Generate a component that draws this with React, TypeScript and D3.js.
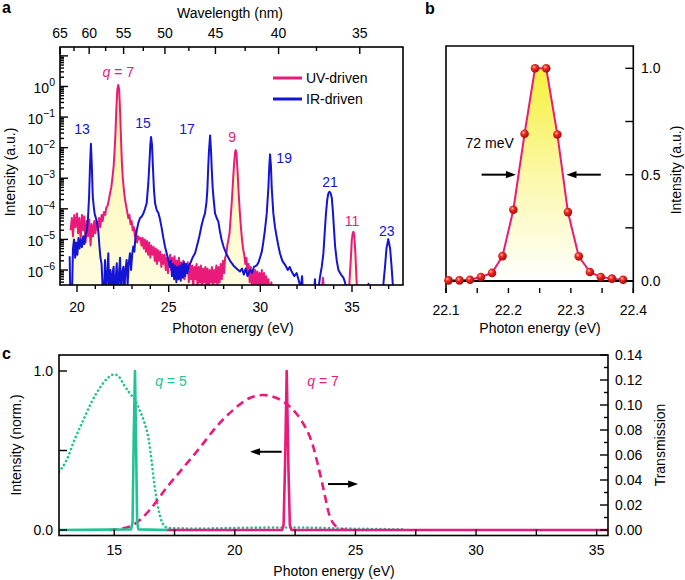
import React from "react";
import * as d3 from "d3";

const FONT = "'Liberation Sans', Arial, Helvetica, sans-serif";
const MAGENTA = "#ea1a7b";
const BLUE = "#1414d6";
const TEAL = "#22c393";

// ---------- Panel a data: [photon energy (eV), log10 intensity] ----------
const uvSpectrum: [number, number][] = [
  [19.65,-4.7],[19.72,-4.3],[19.78,-4.9],[19.85,-4.2],[19.92,-4.6],[20.0,-4.15],[20.06,-4.8],[20.13,-4.3],
  [20.2,-5.0],[20.27,-4.2],[20.34,-4.7],[20.4,-4.25],[20.47,-5.1],[20.54,-4.4],[20.6,-4.9],[20.67,-4.35],
  [20.74,-5.2],[20.8,-4.5],[20.87,-4.9],[20.94,-4.4],[21.0,-4.8],[21.07,-4.4],[21.14,-4.7],[21.2,-4.3],
  [21.27,-4.6],[21.34,-4.2],[21.4,-4.4],[21.47,-4.1],[21.54,-4.2],[21.6,-3.95],[21.67,-3.9],[21.74,-3.7],
  [21.8,-3.5],[21.87,-3.3],[21.93,-3.0],[22.0,-2.6],[22.05,-2.1],[22.1,-1.5],[22.15,-0.7],[22.2,-0.1],
  [22.25,0.05],[22.3,-0.1],[22.35,-0.8],[22.4,-1.7],[22.45,-2.5],[22.5,-3.0],[22.56,-3.4],[22.62,-3.7],
  [22.68,-3.9],[22.74,-4.1],[22.8,-4.3],[22.86,-4.2],[22.92,-4.5],[22.98,-4.4],[23.04,-4.7],[23.1,-4.6],
  [23.16,-4.9],[23.22,-4.7],[23.28,-5.1],[23.34,-4.9],[23.4,-5.0],[23.46,-4.95],[23.52,-5.2],[23.58,-4.95],
  [23.64,-5.3],[23.7,-5.0],[23.76,-5.4],[23.82,-5.05],[23.88,-5.5],[23.94,-5.1],[24.0,-5.6],[24.06,-5.2],
  [24.12,-5.5],[24.18,-5.25],[24.24,-5.7],[24.3,-5.3],[24.36,-5.8],[24.42,-5.35],[24.48,-5.7],[24.54,-5.4],
  [24.6,-5.9],[24.66,-5.5],[24.72,-5.8],[24.78,-5.5],[24.84,-6.0],[24.9,-5.6],[24.96,-6.1],[25.02,-5.7],
  [25.08,-5.5],[25.14,-6.0],[25.2,-5.6],[25.26,-5.9],[25.32,-5.55],[25.38,-6.1],[25.44,-5.7],[25.5,-6.0],
  [25.56,-5.6],[25.62,-6.2],[25.68,-5.75],[25.74,-6.1],[25.8,-5.7],[25.86,-6.3],[25.92,-5.8],[25.98,-6.1],
  [26.04,-5.75],[26.1,-6.4],[26.16,-5.8],[26.22,-6.3],[26.28,-5.85],[26.34,-6.6],[26.4,-5.9],[26.46,-6.3],
  [26.52,-5.8],[26.58,-6.6],[26.64,-5.9],[26.7,-6.4],[26.76,-5.85],[26.82,-6.7],[26.88,-5.95],[26.94,-6.4],
  [27.0,-5.9],[27.06,-6.6],[27.12,-5.95],[27.18,-6.7],[27.24,-6.0],[27.3,-6.4],[27.36,-5.9],[27.42,-6.7],
  [27.48,-6.0],[27.54,-6.4],[27.6,-5.85],[27.66,-6.6],[27.72,-5.9],[27.78,-6.4],[27.84,-5.8],[27.9,-6.3],
  [27.96,-5.7],[28.02,-6.1],[28.08,-5.6],[28.14,-5.5],[28.2,-5.2],[28.26,-5.0],[28.32,-4.8],[28.38,-4.3],
  [28.44,-3.8],[28.5,-3.2],[28.56,-2.6],[28.62,-2.15],[28.66,-2.08],[28.7,-2.2],[28.76,-2.8],[28.82,-3.5],
  [28.88,-4.1],[28.94,-4.6],[29.0,-5.0],[29.06,-5.3],[29.12,-5.5],[29.18,-5.8],[29.24,-5.6],[29.3,-6.1],
  [29.36,-5.8],[29.42,-6.4],[29.48,-5.9],[29.54,-6.5],[29.6,-6.0],[29.66,-6.7],[29.72,-6.0],[29.78,-6.5],
  [29.84,-6.05],[29.9,-6.7],[29.96,-6.1],[30.02,-6.6],[30.08,-6.0],[30.14,-6.6],[30.2,-6.1],[30.26,-6.7],
  [30.32,-6.2],[30.38,-6.7],[30.44,-6.3],[30.5,-6.8],[30.6,-6.4],[30.7,-7],[33.3,-7],[33.42,-6.25],
  [33.5,-7],[34.8,-7],[34.88,-6.2],[34.94,-5.6],[34.99,-5.0],[35.04,-4.8],[35.08,-4.75],[35.12,-4.85],
  [35.18,-5.4],[35.24,-6.2],[35.3,-7],
];

const irSpectrum: [number, number][] = [
  [19.6,-5.55],[19.64,-7],[19.72,-7],[19.78,-5.3],[19.84,-5.0],[19.9,-5.6],[19.96,-5.1],[20.02,-5.5],
  [20.08,-4.95],[20.14,-5.3],[20.2,-5.0],[20.27,-5.25],[20.34,-4.9],[20.4,-5.15],[20.47,-4.85],[20.54,-4.7],
  [20.6,-4.3],[20.66,-3.6],[20.71,-2.6],[20.76,-1.87],[20.81,-2.6],[20.86,-3.6],[20.91,-3.9],[20.96,-4.15],
  [21.03,-4.3],[21.1,-4.5],[21.16,-4.7],[21.22,-5.2],[21.28,-5.6],[21.34,-5.8],[21.4,-6.6],[21.46,-7],
  [21.53,-5.67],[21.58,-7],[21.64,-6.2],[21.71,-5.45],[21.76,-7],[21.82,-6.0],[21.88,-7],[21.94,-6.1],
  [22.0,-5.89],[22.05,-7],[22.11,-6.3],[22.17,-5.78],[22.22,-7],[22.28,-6.2],[22.35,-5.6],[22.4,-7],
  [22.46,-6.1],[22.53,-5.89],[22.58,-6.8],[22.64,-6.0],[22.71,-5.67],[22.76,-6.5],[22.82,-5.8],[22.89,-5.45],
  [22.95,-6.0],[23.01,-5.5],[23.07,-5.23],[23.13,-5.4],[23.19,-4.9],[23.26,-4.7],[23.35,-4.45],[23.44,-4.3],
  [23.53,-4.25],[23.62,-4.15],[23.71,-4.0],[23.8,-3.82],[23.89,-3.17],[23.95,-2.5],[24.0,-1.9],[24.04,-1.65],
  [24.09,-1.9],[24.14,-2.6],[24.2,-3.4],[24.26,-3.82],[24.35,-4.05],[24.44,-4.14],[24.53,-4.35],[24.62,-4.63],
  [24.71,-4.95],[24.8,-5.23],[24.89,-5.45],[24.98,-5.67],[25.06,-5.9],[25.12,-5.7],[25.18,-6.2],[25.24,-5.8],
  [25.3,-6.3],[25.36,-5.85],[25.42,-6.4],[25.48,-5.9],[25.54,-6.3],[25.6,-5.85],[25.66,-6.35],[25.72,-5.8],
  [25.78,-6.25],[25.84,-5.75],[25.9,-6.2],[25.96,-5.8],[26.02,-6.1],[26.1,-5.85],[26.2,-5.75],[26.3,-5.6],
  [26.44,-5.45],[26.55,-5.2],[26.67,-4.91],[26.8,-4.53],[26.9,-4.3],[26.98,-4.15],[27.06,-3.8],[27.11,-3.39],
  [27.16,-2.6],[27.2,-2.1],[27.26,-1.6],[27.31,-2.1],[27.35,-2.7],[27.4,-3.3],[27.44,-3.6],[27.53,-4.15],
  [27.62,-4.3],[27.71,-4.42],[27.8,-4.75],[27.89,-5.02],[28.0,-5.25],[28.17,-5.5],[28.35,-5.7],[28.53,-5.85],
  [28.7,-5.95],[28.89,-6.05],[29.0,-5.95],[29.1,-6.15],[29.2,-5.95],[29.3,-6.2],[29.44,-6.0],[29.55,-6.1],
  [29.65,-5.9],[29.8,-5.85],[29.9,-5.75],[29.98,-5.6],[30.08,-5.4],[30.16,-5.1],[30.25,-4.7],[30.35,-4.15],
  [30.44,-3.3],[30.49,-2.6],[30.53,-2.22],[30.58,-2.6],[30.62,-3.3],[30.71,-4.15],[30.8,-4.6],[30.89,-4.91],
  [30.98,-5.2],[31.07,-5.45],[31.2,-5.7],[31.35,-5.83],[31.5,-6.0],[31.6,-5.9],[31.71,-6.05],[31.85,-6.2],
  [31.98,-6.1],[32.1,-6.35],[32.2,-6.6],[32.28,-6.2],[32.34,-7],[32.9,-7],[32.98,-6.3],[33.04,-7],
  [33.15,-6.7],[33.26,-6.21],[33.35,-5.9],[33.44,-5.45],[33.52,-4.7],[33.58,-4.15],[33.65,-3.7],[33.71,-3.5],
  [33.77,-3.44],[33.84,-3.5],[33.9,-3.65],[33.96,-4.1],[34.0,-4.5],[34.08,-5.23],[34.17,-5.7],[34.26,-6.0],
  [34.4,-6.15],[34.53,-6.25],[34.62,-6.4],[34.71,-6.7],[34.8,-7],[35.85,-7],[35.9,-6.45],[35.95,-7],
  [36.65,-7],[36.72,-6.4],[36.8,-5.9],[36.88,-5.3],[36.98,-4.99],[37.08,-5.3],[37.16,-5.9],[37.24,-6.6],[37.3,-7],
];

const wavelengthMajor = [65, 60, 55, 50, 45, 40, 35];
const wavelengthMinor = [62.5, 57.5, 52.5, 47.5, 42.5, 37.5];
const energyTicksA = [20, 25, 30, 35];
const decadeLabels = [0, -1, -2, -3, -4, -5, -6];
const peakLabels = [
  { text: "13", e: 20.27, logI: -1.39, src: "IR" },
  { text: "15", e: 23.6, logI: -1.19, src: "IR" },
  { text: "17", e: 26.0, logI: -1.39, src: "IR" },
  { text: "9", e: 28.46, logI: -1.65, src: "UV" },
  { text: "19", e: 31.3, logI: -2.33, src: "IR" },
  { text: "21", e: 33.8, logI: -3.12, src: "IR" },
  { text: "11", e: 35.0, logI: -4.39, src: "UV" },
  { text: "23", e: 36.9, logI: -4.72, src: "IR" },
];
const legendItems = [
  { name: "UV-driven", src: "UV" },
  { name: "IR-driven", src: "IR" },
];

// ---------- Panel b data ----------
const bEnergy = [22.104, 22.1216, 22.1384, 22.1558, 22.1737, 22.1905, 22.2079, 22.2258, 22.2426,
  22.2605, 22.2784, 22.2953, 22.3126, 22.3305, 22.3479, 22.3658, 22.3837];
const bIntensity = [0.003, 0.003, 0.006, 0.019, 0.038, 0.117, 0.335, 0.692, 1.0,
  1.0, 0.689, 0.324, 0.116, 0.042, 0.019, 0.011, 0.006];
const bXTicks = [22.1, 22.2, 22.3, 22.4];
const bXMinor = [22.15, 22.25, 22.35];
const bYTicks = [0, 0.5, 1.0];
const bYMinor = [0.25, 0.75];

// ---------- Panel c data ----------
const q5Intensity: [number, number][] = [
  [12.71, 0], [15.7, 0.004], [15.76, 0.05], [15.81, 0.6], [15.86, 1.0], [15.9, 0.6], [15.95, 0.05], [16.0, 0.004], [17.25, 0],
];
const q7Intensity: [number, number][] = [
  [17.2, 0], [21.95, 0], [22.02, 0.03], [22.08, 0.4], [22.15, 1.0], [22.22, 0.4], [22.28, 0.03], [22.35, 0], [35.47, 0],
];
const q5Transmission: [number, number][] = [
  [12.71, 0.0465], [13.0, 0.055], [13.35, 0.072], [13.72, 0.088], [14.05, 0.102], [14.4, 0.1136], [14.7, 0.121],
  [15.0, 0.1245], [15.2, 0.1225], [15.37, 0.117], [15.65, 0.1093], [15.86, 0.104], [16.08, 0.0947], [16.25, 0.086],
  [16.43, 0.072], [16.55, 0.055], [16.64, 0.04], [16.78, 0.022], [16.9, 0.011], [17.05, 0.004], [17.25, 0.0015],
  [18.5, 0.0012], [20.5, 0.0018], [22.5, 0.002], [24.5, 0.0012], [27.0, 0.0005],
];
const q7Transmission: [number, number][] = [
  [14.8, 0.0], [15.2, 0.0008], [15.78, 0.004], [16.47, 0.016], [17.16, 0.0336], [17.85, 0.0496], [18.54, 0.0656],
  [19.24, 0.0827], [19.93, 0.096], [20.62, 0.1056], [21.17, 0.108], [21.73, 0.1056], [22.28, 0.0987], [22.83, 0.0853],
  [23.1, 0.075], [23.25, 0.0667], [23.42, 0.054], [23.59, 0.04], [23.75, 0.026], [23.86, 0.016], [24.0, 0.008],
  [24.14, 0.004], [24.35, 0.001], [24.6, 0.0],
];
const cXTicks = [15, 20, 25, 30, 35];
const cXMinor = [17.5, 22.5, 27.5, 32.5];
const cIntensityTicks = [0, 1.0];
const cIntensityMinor = [0.5];
const cTransTicks = [0, 0.02, 0.04, 0.06, 0.08, 0.1, 0.12, 0.14];
const cTransMinor = [0.01, 0.03, 0.05, 0.07, 0.09, 0.11, 0.13];

const Arrow = ({ x1, y1, x2, y2 }: { x1: number; y1: number; x2: number; y2: number }) => {
  const ang = Math.atan2(y2 - y1, x2 - x1);
  const L = 10, W = 3.6;
  const bx = x2 - L * Math.cos(ang), by = y2 - L * Math.sin(ang);
  const p1 = `${bx + W * Math.sin(ang)},${by - W * Math.cos(ang)}`;
  const p2 = `${bx - W * Math.sin(ang)},${by + W * Math.cos(ang)}`;
  return (
    <g>
      <line x1={x1} y1={y1} x2={bx + 1 * Math.cos(ang)} y2={by + 1 * Math.sin(ang)} stroke="#000" strokeWidth={2} />
      <polygon points={`${x2},${y2} ${p1} ${p2}`} fill="#000" />
    </g>
  );
};

export default function App() {
  const srcColor = (s: string) => (s === "UV" ? MAGENTA : BLUE);

  // ----- Panel a -----
  const A = { l: 60, r: 403, t: 47, b: 285 };
  const xA = d3.scaleLinear().domain([19.073, 37.782]).range([A.l, A.r]);
  const yA = d3.scaleLog().domain([10 ** -6.49, 10 ** 1.29]).range([A.b, A.t]);
  const lineA = d3.line<[number, number]>().x((d) => xA(d[0])).y((d) => yA(10 ** d[1]));
  const areaA = d3.area<[number, number]>().x((d) => xA(d[0])).y0(A.b).y1((d) => yA(10 ** d[1]));
  const logTicks: { v: number; major: boolean }[] = [];
  for (let dec = -7; dec <= 1; dec++) {
    for (let k = 1; k <= 9; k++) {
      const v = k * 10 ** dec;
      if (v >= 10 ** -6.49 && v <= 10 ** 1.29) logTicks.push({ v, major: k === 1 });
    }
  }
  const energyMinorA = d3.range(20, 38);
  const toE = (nm: number) => 1239.84 / nm;

  // ----- Panel b -----
  const B = { l: 446, r: 633.3, t: 46, b: 281 };
  const xB = d3.scaleLinear().domain([22.1, 22.4]).range([B.l, B.r]);
  const yB = d3.scaleLinear().domain([0, 1.105]).range([B.b, B.t]);
  const bData = bEnergy.map((e, i) => [e, bIntensity[i]] as [number, number]);
  const lineB = d3.line<[number, number]>().x((d) => xB(d[0])).y((d) => yB(d[1]));
  const areaB = d3.area<[number, number]>().x((d) => xB(d[0])).y0(B.b).y1((d) => yB(d[1]));

  // ----- Panel c -----
  const C = { l: 59, r: 608, t: 355, b: 535.5 };
  const xC = d3.scaleLinear().domain([12.71, 35.47]).range([C.l, C.r]);
  const yCI = d3.scaleLinear().domain([-0.0346, 1.1006]).range([C.b, C.t]);
  const yCT = d3.scaleLinear().domain([-0.0044, 0.14]).range([C.b, C.t]);
  const lineCI = d3.line<[number, number]>().x((d) => xC(d[0])).y((d) => yCI(d[1]));
  const lineCT = d3.line<[number, number]>().x((d) => xC(d[0])).y((d) => yCT(d[1])).curve(d3.curveMonotoneX);

  const tickText = { fontFamily: FONT, fontSize: 14, fill: "#000" } as const;

  return (
    <svg width={685} height={580} style={{ position: "absolute", left: 0, top: 0, background: "#fff" }}
      fontFamily={FONT}>
      <defs>
        <clipPath id="clipA"><rect x={A.l} y={A.t} width={A.r - A.l} height={A.b - A.t} /></clipPath>
        <clipPath id="clipC"><rect x={C.l} y={C.t} width={C.r - C.l} height={C.b - C.t} /></clipPath>
        <linearGradient id="gradA" x1="0" y1={A.t} x2="0" y2={A.b} gradientUnits="userSpaceOnUse">
          <stop offset="0" stopColor="#fff38a" />
          <stop offset="0.6" stopColor="#fffac0" />
          <stop offset="1" stopColor="#fffce0" />
        </linearGradient>
        <linearGradient id="gradB" x1="0" y1={yB(1)} x2="0" y2={B.b} gradientUnits="userSpaceOnUse">
          <stop offset="0" stopColor="#f6f03a" />
          <stop offset="0.5" stopColor="#fbf8a8" />
          <stop offset="1" stopColor="#ffffff" />
        </linearGradient>
        <radialGradient id="ball" cx="0.38" cy="0.35" r="0.65">
          <stop offset="0" stopColor="#ffc4b8" />
          <stop offset="0.35" stopColor="#f22a22" />
          <stop offset="1" stopColor="#a80a0a" />
        </radialGradient>
      </defs>

      {/* ================= Panel a ================= */}
      <text x={2} y={13} fontSize={16} fontWeight="bold">a</text>
      <g clipPath="url(#clipA)">
        <path d={areaA(uvSpectrum) || ""} fill="url(#gradA)" />
        <path d={lineA(uvSpectrum) || ""} fill="none" stroke={MAGENTA} strokeWidth={2} strokeLinejoin="round" />
        <path d={lineA(irSpectrum) || ""} fill="none" stroke={BLUE} strokeWidth={2} strokeLinejoin="round" />
      </g>
      <rect x={A.l} y={A.t} width={A.r - A.l} height={A.b - A.t} fill="none" stroke="#000" strokeWidth={1.6} />
      {/* left log ticks */}
      {logTicks.map((t, i) => (
        <line key={"lt" + i} x1={A.l} x2={A.l + (t.major ? 8 : 4)} y1={yA(t.v)} y2={yA(t.v)} stroke="#000" strokeWidth={1.4} />
      ))}
      {decadeLabels.map((d) => (
        <text key={"dl" + d} x={55} y={yA(10 ** d) + 6.5} textAnchor="end" {...tickText}>
          10<tspan dy={-6.5} fontSize={10.5}>{d === 0 ? "0" : "\u2212" + Math.abs(d)}</tspan>
        </text>
      ))}
      <text transform={`translate(15,${172}) rotate(-90)`} textAnchor="middle" {...tickText}>Intensity (a.u.)</text>
      {/* bottom energy ticks */}
      {energyMinorA.map((e) => (
        <line key={"be" + e} x1={xA(e)} x2={xA(e)} y1={A.b} y2={A.b + (energyTicksA.includes(e) ? 7 : 4)} stroke="#000" strokeWidth={1.4} />
      ))}
      {energyTicksA.map((e) => (
        <text key={"bl" + e} x={xA(e)} y={312} textAnchor="middle" {...tickText}>{e}</text>
      ))}
      <text x={233} y={333} textAnchor="middle" {...tickText}>Photon energy (eV)</text>
      {/* top wavelength ticks */}
      {wavelengthMajor.map((w) => (
        <g key={"wm" + w}>
          <line x1={xA(toE(w))} x2={xA(toE(w))} y1={A.t} y2={A.t + 7} stroke="#000" strokeWidth={1.4} />
          <text x={xA(toE(w))} y={38} textAnchor="middle" {...tickText}>{w}</text>
        </g>
      ))}
      {wavelengthMinor.map((w) => (
        <line key={"wn" + w} x1={xA(toE(w))} x2={xA(toE(w))} y1={A.t} y2={A.t + 4} stroke="#000" strokeWidth={1.4} />
      ))}
      <text x={230} y={18} textAnchor="middle" {...tickText}>Wavelength (nm)</text>
      {/* peak labels */}
      <text x={xA(22.25)} y={yA(10 ** 0.48)} dy="0.35em" textAnchor="middle" fontSize={14} fill={MAGENTA}>
        <tspan fontStyle="italic">q</tspan> = 7
      </text>
      {peakLabels.map((p) => (
        <text key={"pl" + p.text} x={xA(p.e)} y={yA(10 ** p.logI)} dy="0.35em" textAnchor="middle" fontSize={14} fill={srcColor(p.src)}>
          {p.text}
        </text>
      ))}
      {/* legend */}
      {legendItems.map((it, i) => (
        <g key={it.name}>
          <line x1={273} x2={302} y1={78 + i * 21} y2={78 + i * 21} stroke={srcColor(it.src)} strokeWidth={3} />
          <text x={306} y={83 + i * 21} {...tickText}>{it.name}</text>
        </g>
      ))}

      {/* ================= Panel b ================= */}
      <text x={425} y={14} fontSize={16} fontWeight="bold">b</text>
      <path d={areaB(bData) || ""} fill="url(#gradB)" />
      <path d={lineB(bData) || ""} fill="none" stroke={MAGENTA} strokeWidth={2} />
      <path d={`M${B.l},${B.b + 12}V${B.t}H${B.r}V${B.b + 12}`} fill="none" stroke="#000" strokeWidth={1.6} />
      <line x1={B.l} x2={B.r} y1={yB(0)} y2={yB(0)} stroke="#000" strokeWidth={1.8} />
      {bData.map((d, i) => (
        <circle key={"bp" + i} cx={xB(d[0])} cy={yB(d[1])} r={4.3} fill="url(#ball)" />
      ))}
      {[...bXTicks, ...bXMinor].map((e) => (
        <line key={"bxt" + e} x1={xB(e)} x2={xB(e)} y1={B.b + 7} y2={B.b + 12} stroke="#000" strokeWidth={1.4} />
      ))}
      {bXTicks.map((e) => (
        <text key={"bxl" + e} x={xB(e)} y={315} textAnchor="middle" {...tickText}>{e.toFixed(1)}</text>
      ))}
      {[...bYTicks, ...bYMinor].map((v) => (
        <line key={"byt" + v} x1={B.r - 8} x2={B.r} y1={yB(v)} y2={yB(v)} stroke="#000" strokeWidth={1.4} />
      ))}
      {bYTicks.map((v) => (
        <text key={"byl" + v} x={641} y={yB(v) + 5} {...tickText}>{v.toFixed(1)}</text>
      ))}
      <text transform={`translate(681,${170}) rotate(-90)`} textAnchor="middle" {...tickText}>Intensity (a.u.)</text>
      <text x={540} y={333} textAnchor="middle" {...tickText}>Photon energy (eV)</text>
      <text x={xB(22.170)} y={yB(0.649)} dy="0.35em" textAnchor="middle" {...tickText}>72 meV</text>
      <Arrow x1={xB(22.157)} y1={yB(0.5)} x2={xB(22.212)} y2={yB(0.5)} />
      <Arrow x1={xB(22.348)} y1={yB(0.5)} x2={xB(22.293)} y2={yB(0.5)} />

      {/* ================= Panel c ================= */}
      <text x={2} y={359} fontSize={16} fontWeight="bold">c</text>
      <g clipPath="url(#clipC)">
        <path d={lineCT(q5Transmission) || ""} fill="none" stroke={TEAL} strokeWidth={2.6} strokeDasharray="0.1 4.2" strokeLinecap="round" />
        <path d={lineCT(q7Transmission) || ""} fill="none" stroke={MAGENTA} strokeWidth={2.6} strokeDasharray="8 5" />
        <path d={lineCI(q5Intensity) || ""} fill="none" stroke={TEAL} strokeWidth={2.6} strokeLinejoin="round" />
        <path d={lineCI(q7Intensity) || ""} fill="none" stroke={MAGENTA} strokeWidth={2.6} strokeLinejoin="round" />
      </g>
      <rect x={C.l} y={C.t} width={C.r - C.l} height={C.b - C.t} fill="none" stroke="#000" strokeWidth={1.6} />
      {[...cXTicks, ...cXMinor].map((e) => (
        <line key={"cxt" + e} x1={xC(e)} x2={xC(e)} y1={C.b} y2={C.b - 6} stroke="#000" strokeWidth={1.4} />
      ))}
      {cXTicks.map((e) => (
        <text key={"cxl" + e} x={xC(e)} y={555} textAnchor="middle" {...tickText}>{e}</text>
      ))}
      <text x={334} y={576} textAnchor="middle" {...tickText}>Photon energy (eV)</text>
      {[...cIntensityTicks, ...cIntensityMinor].map((v) => (
        <line key={"cit" + v} x1={C.l} x2={C.l + 8} y1={yCI(v)} y2={yCI(v)} stroke="#000" strokeWidth={1.4} />
      ))}
      {cIntensityTicks.map((v) => (
        <text key={"cil" + v} x={53} y={yCI(v) + 5} textAnchor="end" {...tickText}>{v.toFixed(1)}</text>
      ))}
      <text transform={`translate(21,${445}) rotate(-90)`} textAnchor="middle" {...tickText}>Intensity (norm.)</text>
      {cTransTicks.map((v) => (
        <line key={"ctt" + v} x1={C.r - 8} x2={C.r} y1={yCT(v)} y2={yCT(v)} stroke="#000" strokeWidth={1.4} />
      ))}
      {cTransMinor.map((v) => (
        <line key={"ctm" + v} x1={C.r - 4} x2={C.r} y1={yCT(v)} y2={yCT(v)} stroke="#000" strokeWidth={1.4} />
      ))}
      {cTransTicks.map((v) => (
        <text key={"ctl" + v} x={615} y={yCT(v) + 5} {...tickText}>{v.toFixed(2)}</text>
      ))}
      <text transform={`translate(665,${445}) rotate(-90)`} textAnchor="middle" {...tickText}>Transmission</text>
      <text x={xC(17.35)} y={yCI(0.937)} dy="0.35em" textAnchor="middle" fontSize={14} fill={TEAL}>
        <tspan fontStyle="italic">q</tspan> = 5
      </text>
      <text x={xC(23.66)} y={yCI(0.937)} dy="0.35em" textAnchor="middle" fontSize={14} fill={MAGENTA}>
        <tspan fontStyle="italic">q</tspan> = 7
      </text>
      <Arrow x1={xC(21.94)} y1={yCI(0.492)} x2={xC(20.63)} y2={yCI(0.492)} />
      <Arrow x1={xC(23.86)} y1={yCI(0.289)} x2={xC(25.11)} y2={yCI(0.289)} />
    </svg>
  );
}
